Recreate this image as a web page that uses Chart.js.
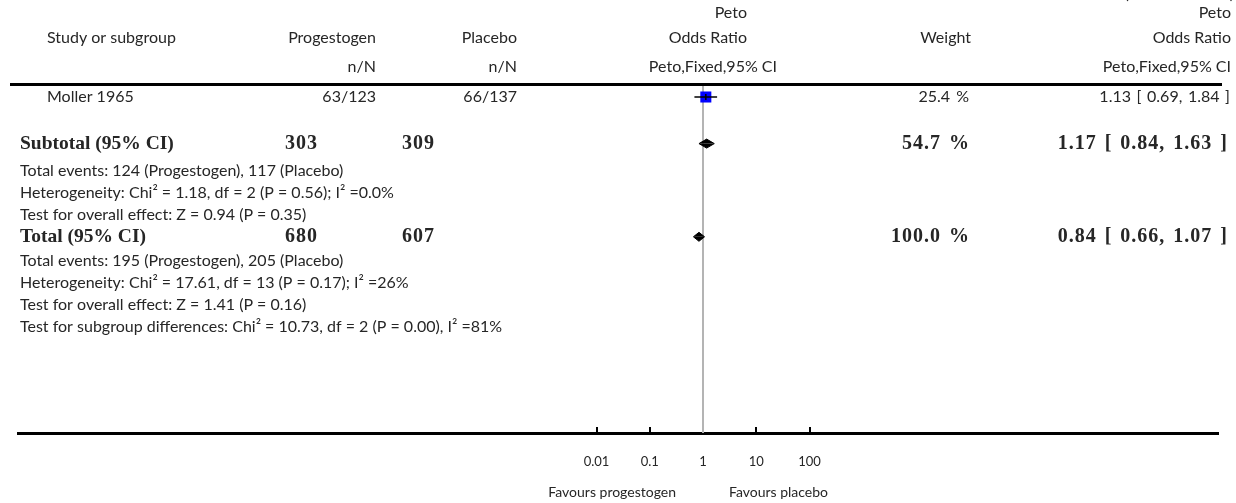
<!DOCTYPE html>
<html>
<head>
<meta charset="utf-8">
<script src="https://cdn.jsdelivr.net/npm/chart.js@4.4.1/dist/chart.umd.min.js"></script>
<style>
  html, body { margin: 0; padding: 0; background: #fff; }
</style>
</head>
<body>
<canvas id="forest" width="1236" height="503"></canvas>
<script>
// single study in this part of the plot
const studies = ['Moller 1965'];
const progEvents = [63];
const progTotal = [123];
const placEvents = [66];
const placTotal = [137];
const studyWeight = [25.4];
const studyOR = [1.13];
const studyLow = [0.69];
const studyHigh = [1.84];

// pooled rows (subtotal, total)
const pooledLabels = ['Subtotal (95% CI)', 'Total (95% CI)'];
const pooledProg = [303, 680];
const pooledPlac = [309, 607];
const pooledWeight = [54.7, 100.0];
const pooledOR = [1.17, 0.84];
const pooledLow = [0.84, 0.66];
const pooledHigh = [1.63, 1.07];

const subtotalNotes = [
  'Total events: 124 (Progestogen), 117 (Placebo)',
  'Heterogeneity: Chi\u00b2 = 1.18, df = 2 (P = 0.56); I\u00b2 =0.0%',
  'Test for overall effect: Z = 0.94 (P = 0.35)'
];
const totalNotes = [
  'Total events: 195 (Progestogen), 205 (Placebo)',
  'Heterogeneity: Chi\u00b2 = 17.61, df = 13 (P = 0.17); I\u00b2 =26%',
  'Test for overall effect: Z = 1.41 (P = 0.16)',
  'Test for subgroup differences: Chi\u00b2 = 10.73, df = 2 (P = 0.00), I\u00b2 =81%'
];

const axisTicks = [0.01, 0.1, 1, 10, 100];
const tickLabels = ['0.01', '0.1', '1', '10', '100'];

// row index of each mark on the (hidden) y scale
const studyRows = [1];
const pooledRows = [3, 7];

// layout
const ROW0 = 73.7, ROWH = 23.3, AXIS_Y = 433;
const yMin = -ROW0 / ROWH, yMax = (AXIS_Y - ROW0) / ROWH;
const PX_DECADE = 53.25, ONE_PX = 703, PAD = 18, W = 1236;
const xMin = Math.pow(10, -(ONE_PX - PAD) / PX_DECADE);
const xMax = Math.pow(10, (W - PAD - ONE_PX) / PX_DECADE);
const DIA_H = 4.5 / ROWH;

const sans = 'Lato, "DejaVu Sans", sans-serif';
const serif = '"Liberation Serif", "DejaVu Serif", serif';
const ink = '#262626';
const FONT = '16px ' + sans;
const BOLD = 'bold 19.5px ' + serif;
const BOLDNUM = 'bold 20px ' + serif;

const datasets = [];

// CI lines for studies (on top of the squares)
studies.forEach((s, i) => {
  datasets.push({
    data: [{x: studyLow[i], y: studyRows[i]}, {x: studyHigh[i], y: studyRows[i]}],
    borderColor: '#000', borderWidth: 1.5, pointRadius: 0, order: 0
  });
  datasets.push({
    data: [{x: studyOR[i], y: studyRows[i]}],
    showLine: false, pointStyle: 'line', rotation: 90, pointRadius: 3,
    borderColor: '#000', pointBorderWidth: 1.5, order: 0
  });
  datasets.push({
    data: [{x: studyOR[i], y: studyRows[i]}],
    showLine: false, pointStyle: 'rect', pointRadius: 7.8,
    backgroundColor: '#0000ff', borderColor: '#0000ff', pointBorderWidth: 0, order: 1
  });
});

// pooled diamonds: upper and lower halves filled to the row line
pooledLabels.forEach((p, i) => {
  const r = pooledRows[i];
  [-DIA_H, DIA_H].forEach(h => {
    datasets.push({
      data: [{x: pooledLow[i], y: r}, {x: pooledOR[i], y: r + h}, {x: pooledHigh[i], y: r}],
      borderColor: '#000', backgroundColor: '#000', borderWidth: 1,
      pointRadius: 0, fill: {value: r}, order: 1
    });
  });
});

// line of no effect
datasets.push({
  data: [{x: 1, y: 0.53}, {x: 1, y: yMax}],
  borderColor: '#b4b4b4', borderWidth: 2, pointRadius: 0, order: 5
});

const ciText = (m, l, h) => m.toFixed(2) + ' [ ' + l.toFixed(2) + ', ' + h.toFixed(2) + ' ]';

const tablePlugin = {
  id: 'forestTable',
  afterDraw(chart) {
    const ctx = chart.ctx;
    const ys = chart.scales.y, xs = chart.scales.x;
    ctx.save();
    const txt = (s, x, y, align, font, wsp, lsp) => {
      ctx.font = font || FONT;
      ctx.fillStyle = ink;
      ctx.textAlign = align;
      ctx.textBaseline = 'middle';
      ctx.wordSpacing = (wsp || 0) + 'px';
      ctx.letterSpacing = (lsp || 0) + 'px';
      ctx.fillText(s, x, y);
    };
    // cut-off continuation note
    ctx.font = FONT;
    ctx.fillStyle = ink; ctx.textAlign = 'right'; ctx.textBaseline = 'bottom';
    ctx.fillText('(Continued . . . )', 1234, 2);

    // header
    txt('Study or subgroup', 47, 38, 'left');
    txt('Progestogen', 376, 38, 'right');
    txt('Placebo', 517, 38, 'right');
    txt('Peto', 747, 13, 'right');
    txt('Odds Ratio', 747, 38, 'right');
    txt('Weight', 971, 38, 'right');
    txt('Peto', 1231, 13, 'right');
    txt('Odds Ratio', 1231, 38, 'right');
    txt('n/N', 376, 67, 'right');
    txt('n/N', 517, 67, 'right');
    txt('Peto,Fixed,95% CI', 777, 67, 'right');
    txt('Peto,Fixed,95% CI', 1231, 67, 'right');

    ctx.strokeStyle = '#000';
    ctx.lineWidth = 3;
    ctx.beginPath();
    ctx.moveTo(10, 84.5); ctx.lineTo(1222, 84.5);
    ctx.stroke();

    // studies
    studies.forEach((s, i) => {
      const y = ys.getPixelForValue(studyRows[i]);
      txt(s, 47, y, 'left');
      txt(progEvents[i] + '/' + progTotal[i], 376, y, 'right');
      txt(placEvents[i] + '/' + placTotal[i], 517, y, 'right');
      txt(studyWeight[i].toFixed(1) + ' %', 969, y, 'right', FONT, 2);
      txt(ciText(studyOR[i], studyLow[i], studyHigh[i]), 1230, y, 'right', FONT, 1.5);
    });

    // pooled rows
    pooledLabels.forEach((p, i) => {
      const y = ys.getPixelForValue(pooledRows[i]);
      txt(p, 20, y, 'left', BOLD);
      txt(String(pooledProg[i]), 318, y, 'right', BOLDNUM, 0, 1);
      txt(String(pooledPlac[i]), 435, y, 'right', BOLDNUM, 0, 1);
      txt(pooledWeight[i].toFixed(1) + ' %', 970, y, 'right', BOLDNUM, 2, 1);
      txt(ciText(pooledOR[i], pooledLow[i], pooledHigh[i]), 1228, y, 'right', BOLDNUM, 2, 1);
    });

    subtotalNotes.forEach((n, i) => txt(n, 20, 171 + i * 22, 'left'));
    totalNotes.forEach((n, i) => txt(n, 20, 261 + i * 22, 'left'));

    // axis captions either side of the line of no effect
    const one = xs.getPixelForValue(1);
    txt('Favours progestogen', one - 27, 492, 'right', '14px ' + sans);
    txt('Favours placebo', one + 26, 492, 'left', '14px ' + sans);
    ctx.restore();
  }
};

new Chart(document.getElementById('forest').getContext('2d'), {
  type: 'line',
  data: {datasets},
  options: {
    responsive: false,
    animation: false,
    layout: {autoPadding: false, padding: {left: PAD, right: PAD, top: 0, bottom: 0}},
    plugins: {legend: {display: false}, tooltip: {enabled: false}},
    elements: {line: {tension: 0}},
    scales: {
      x: {
        type: 'logarithmic',
        min: xMin, max: xMax,
        afterBuildTicks: scale => { scale.ticks = axisTicks.map(v => ({value: v})); },
        afterFit: scale => { scale.height = 503 - AXIS_Y; },
        border: {display: true, color: '#000', width: 3},
        grid: {display: true, drawOnChartArea: false, drawTicks: true, tickLength: -6, color: '#000', lineWidth: 2},
        ticks: {
          autoSkip: false, maxRotation: 0, padding: 27,
          color: ink, font: {family: sans, size: 13},
          callback: (v, i) => tickLabels[i]
        }
      },
      y: {type: 'linear', reverse: true, min: yMin, max: yMax, display: false}
    }
  },
  plugins: [tablePlugin]
});
</script>
</body>
</html>
